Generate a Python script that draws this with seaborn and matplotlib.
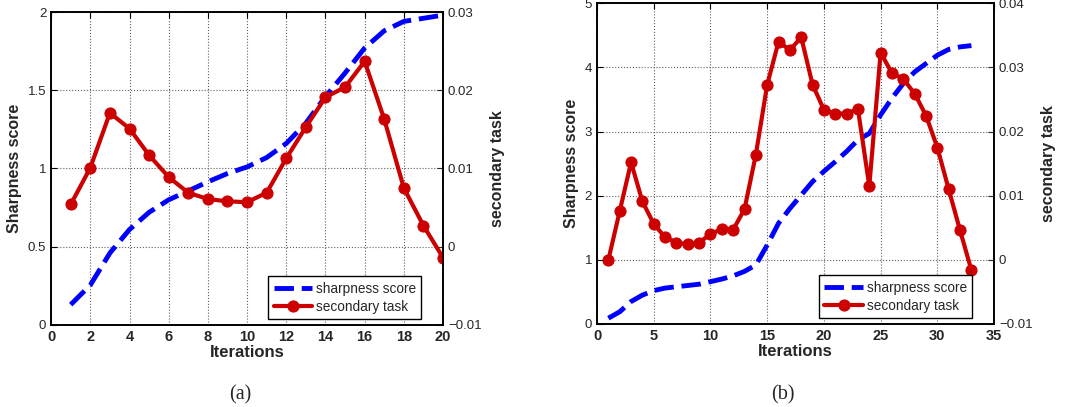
import numpy as np
import pandas as pd
import matplotlib
matplotlib.use("Agg")
import matplotlib.pyplot as plt
import seaborn as sns

# (a) 20 iterations
iters_a = list(range(1, 21))
sharp_a = [0.13, 0.255, 0.46, 0.61, 0.72, 0.80, 0.857, 0.915, 0.968, 1.01,
           1.07, 1.16, 1.29, 1.46, 1.61, 1.77, 1.88, 1.94, 1.96, 1.98]
task_a = [0.0054, 0.0101, 0.0171, 0.0151, 0.0117, 0.0089, 0.0069, 0.0061, 0.0058, 0.0057,
          0.0069, 0.0113, 0.0153, 0.0191, 0.0204, 0.0237, 0.0163, 0.0075, 0.0027, -0.0014]

# (b) 33 iterations
iters_b = list(range(1, 34))
sharp_b = [0.09, 0.19, 0.35, 0.45, 0.52, 0.56, 0.58, 0.60, 0.62, 0.66, 0.70, 0.75,
           0.82, 0.92, 1.23, 1.57, 1.80, 2.01, 2.22, 2.38, 2.53, 2.69, 2.87, 2.97,
           3.26, 3.52, 3.75, 3.93, 4.06, 4.19, 4.28, 4.32, 4.34]
task_b = [0.0, 0.0076, 0.0152, 0.0091, 0.0056, 0.0035, 0.0027, 0.0024, 0.0027, 0.0040,
          0.0048, 0.0047, 0.0079, 0.0164, 0.0273, 0.0340, 0.0327, 0.0347, 0.0273, 0.0234,
          0.0228, 0.0228, 0.0235, 0.0115, 0.0323, 0.0291, 0.0282, 0.0259, 0.0225, 0.0175,
          0.0110, 0.0046, -0.0016]

sns.set_style("white")
plt.rcParams["font.family"] = ["Liberation Sans", "DejaVu Sans"]

BLUE = "#0000ff"
RED = "#cc0000"

fig = plt.figure(figsize=(10.65, 4.07), dpi=100)


def fmt(vals):
    return [("%g" % v).replace("-", "\u2212") for v in vals]


def panel(rect, x, sharp, task, xmax, xticks, yticks, y2ticks, caption, cap_x):
    ax = fig.add_axes(rect)
    df = pd.DataFrame({"Iterations": x, "sharp": sharp, "task": task})
    sns.lineplot(data=df, x="Iterations", y="sharp", ax=ax, color=BLUE, lw=3.5,
                 dashes=(4, 1.6), label="sharpness score", legend=False)
    ax.set_xlim(0, xmax)
    ax.set_ylim(yticks[0], yticks[-1])
    ax.set_xticks(xticks)
    ax.set_yticks(yticks)
    ax.set_yticklabels(fmt(yticks))
    ax.grid(True, linestyle=":", color="#606060", lw=0.8)
    ax.set_xlabel("Iterations", fontsize=12, fontweight="bold", labelpad=1)
    ax.set_ylabel("Sharpness score", fontsize=11.5, fontweight="bold", labelpad=4)
    ax.tick_params(direction="in", length=4, labelsize=9.5, top=True, right=False,
                   color="black", width=0.8)
    ax.tick_params(axis="x", labelsize=10.5)
    for lab in ax.get_xticklabels():
        lab.set_fontweight("bold")

    ax2 = ax.twinx()
    sns.lineplot(data=df, x="Iterations", y="task", ax=ax2, color=RED, lw=3.0,
                 marker="o", markersize=8, markeredgecolor=RED,
                 label="secondary task", legend=False)
    ax2.set_ylim(y2ticks[0], y2ticks[-1])
    ax2.set_yticks(y2ticks)
    ax2.set_yticklabels(fmt(y2ticks))
    ax2.set_ylabel("secondary task", fontsize=11.5, fontweight="bold", labelpad=6)
    ax2.tick_params(direction="in", length=4, labelsize=9.5, width=0.8)
    for a in (ax, ax2):
        for s in a.spines.values():
            s.set_color("black")
            s.set_linewidth(1.2)

    h1, l1 = ax.get_legend_handles_labels()
    h2, l2 = ax2.get_legend_handles_labels()
    leg = ax2.legend(h1 + h2, l1 + l2, loc="lower right", bbox_to_anchor=(0.945, 0.018),
                     fontsize=9.8, frameon=True, fancybox=False, framealpha=1,
                     edgecolor="black", borderpad=0.4, handlelength=2.8,
                     handletextpad=0.3, labelspacing=0.3, borderaxespad=0)
    leg.get_frame().set_linewidth(1.0)

    fig.text(cap_x, 0.03, caption, ha="center", va="center", fontsize=14.5,
             family="Liberation Serif")


panel([0.048, 0.2015, 0.368, 0.769], iters_a, sharp_a, task_a, 20, range(0, 21, 2),
      [0, 0.5, 1, 1.5, 2], [-0.01, 0, 0.01, 0.02, 0.03], "(a)", 240 / 1065)
panel([0.5606, 0.204, 0.3728, 0.788], iters_b, sharp_b, task_b, 35, range(0, 36, 5),
      [0, 1, 2, 3, 4, 5], [-0.01, 0, 0.01, 0.02, 0.03, 0.04], "(b)", 783 / 1065)

plt.savefig("out.png", dpi=100)
